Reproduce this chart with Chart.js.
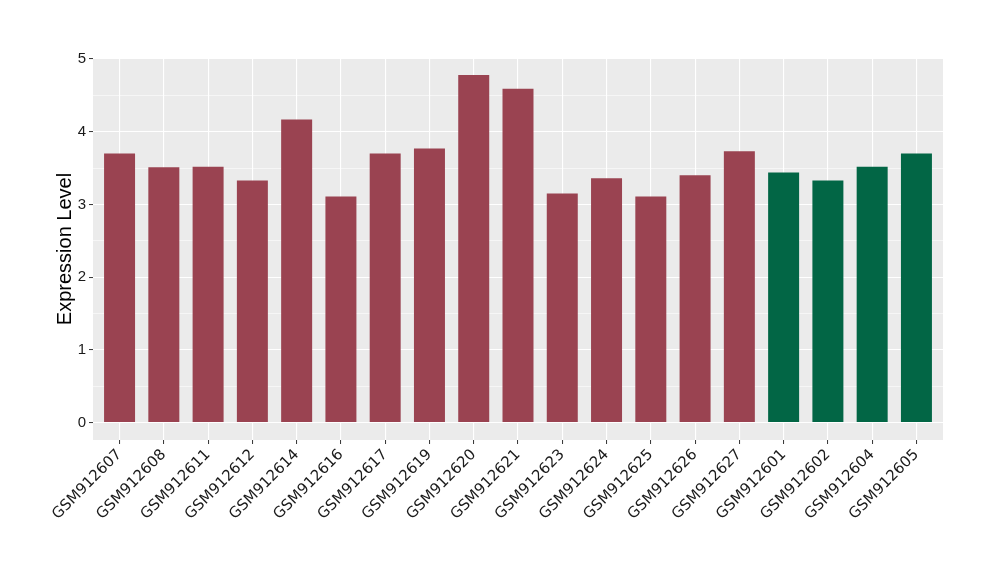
<!DOCTYPE html>
<html>
<head>
<meta charset="utf-8">
<script src="https://cdn.jsdelivr.net/npm/chart.js@4.4.1/dist/chart.umd.min.js"></script>
<style>
html,body{margin:0;padding:0;background:#fff;}
#wrap{width:1000px;height:580px;position:relative;}
</style>
</head>
<body>
<div id="wrap"><canvas id="c" width="1000" height="580"></canvas></div>
<script>
const categories = ["GSM912607","GSM912608","GSM912611","GSM912612","GSM912614","GSM912616","GSM912617","GSM912619","GSM912620","GSM912621","GSM912623","GSM912624","GSM912625","GSM912626","GSM912627","GSM912601","GSM912602","GSM912604","GSM912605"];
const values = [3.70,3.51,3.52,3.33,4.17,3.11,3.70,3.77,4.78,4.59,3.15,3.36,3.11,3.40,3.73,3.44,3.33,3.52,3.70];
const groups = ["a","a","a","a","a","a","a","a","a","a","a","a","a","a","a","b","b","b","b"];
const yTickValues = [0,1,2,3,4,5];
const groupColors = {a:"#9A4351", b:"#026645"};

const minorTicks = yTickValues.slice(0,-1).map(v => v + 0.5);
const yMin = -0.239, yMax = 5.014;

const panelBg = {
  id:'panelBg',
  beforeDraw(chart){
    const {ctx, chartArea:a} = chart;
    ctx.save();
    ctx.fillStyle = '#EBEBEB';
    ctx.fillRect(a.left, a.top, a.right-a.left, a.bottom-a.top);
    ctx.restore();
  }
};

new Chart(document.getElementById('c'), {
  type:'bar',
  data:{
    datasets:[{
      data: categories.map((c,i)=>({x:i+1, y:values[i]})),
      backgroundColor: groups.map(g=>groupColors[g]),
      borderWidth:0,
      barPercentage:0.7,
      categoryPercentage:1.0
    }]
  },
  options:{
    responsive:false,
    animation:false,
    devicePixelRatio:1,
    layout:{padding:{left:53, right:57, top:58, bottom:0}},
    plugins:{legend:{display:false}, tooltip:{enabled:false}},
    scales:{
      x:{
        type:'linear',
        offset:false,
        min:0.4, max:19.6,
        afterBuildTicks(axis){ axis.ticks = categories.map((c,i)=>({value:i+1})); },
        afterFit(axis){ axis.height = 140; },
        border:{display:false},
        grid:{offset:false, color:'#FFFFFF', lineWidth:1.1, drawTicks:true, tickLength:4, tickColor:'#333333', tickWidth:1},
        ticks:{
          autoSkip:false, maxRotation:45, minRotation:45, padding:2,
          color:'#1A1A1A',
          font:{family:'DejaVu Sans', size:15},
          callback:(v)=>categories[v-1]
        }
      },
      y:{
        min:yMin, max:yMax,
        afterBuildTicks(axis){
          axis.ticks = yTickValues.concat(minorTicks).sort((a,b)=>a-b).map(v=>({value:v}));
        },
        afterFit(axis){ axis.width = 40; },
        border:{display:false},
        grid:{
          color:'#FFFFFF',
          lineWidth:(c)=> (c.tick && c.tick.value % 1 !== 0) ? 0.55 : 1.1,
          drawTicks:true, tickLength:4,
          tickColor:(c)=> (c.tick && c.tick.value % 1 !== 0) ? 'rgba(0,0,0,0)' : '#333333',
          tickWidth:1
        },
        ticks:{
          padding:3, color:'#1A1A1A',
          font:{family:'Liberation Sans', size:15},
          callback:(v)=> (v % 1 === 0) ? String(v) : ''
        },
        title:{display:true, text:'Expression Level', color:'#000000',
          font:{family:'Liberation Sans', size:20}, padding:{top:0,bottom:0}}
      }
    }
  },
  plugins:[panelBg]
});
</script>
</body>
</html>
